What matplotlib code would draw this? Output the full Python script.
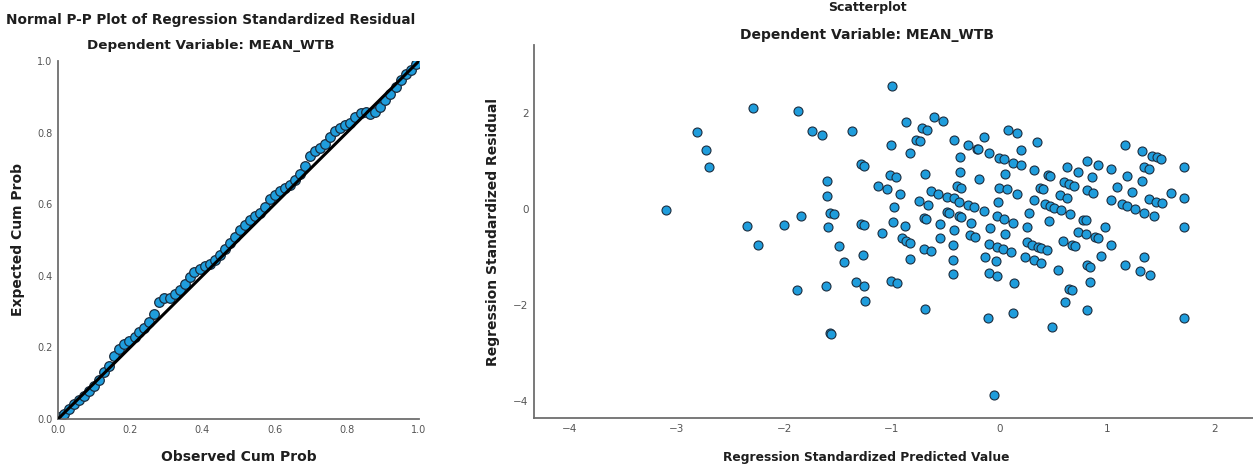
import matplotlib.pyplot as plt

# ---- Normal P-P plot values (read along the band of markers) ----
pp_observed = [0.003, 0.017, 0.031, 0.045, 0.058, 0.072, 0.086, 0.100, 0.114, 0.128,
               0.142, 0.156, 0.170, 0.184, 0.198, 0.212, 0.225, 0.239, 0.253, 0.267,
               0.281, 0.295, 0.309, 0.323, 0.337, 0.351, 0.365, 0.378, 0.392, 0.406,
               0.420, 0.434, 0.448, 0.462, 0.476, 0.490, 0.504, 0.518, 0.532, 0.545,
               0.559, 0.573, 0.587, 0.601, 0.615, 0.629, 0.643, 0.657, 0.671, 0.685,
               0.699, 0.712, 0.726, 0.740, 0.754, 0.768, 0.782, 0.796, 0.810, 0.824,
               0.838, 0.852, 0.865, 0.879, 0.893, 0.907, 0.921, 0.935, 0.949, 0.963,
               0.977, 0.991]
pp_expected = [0.005, 0.014, 0.028, 0.042, 0.053, 0.065, 0.079, 0.093, 0.109, 0.130,
               0.149, 0.177, 0.196, 0.210, 0.219, 0.230, 0.242, 0.254, 0.270, 0.294,
               0.326, 0.338, 0.338, 0.348, 0.361, 0.377, 0.396, 0.410, 0.419, 0.426,
               0.433, 0.445, 0.457, 0.475, 0.492, 0.508, 0.527, 0.543, 0.555, 0.566,
               0.575, 0.592, 0.615, 0.626, 0.637, 0.646, 0.655, 0.668, 0.685, 0.708,
               0.735, 0.748, 0.758, 0.767, 0.788, 0.804, 0.814, 0.820, 0.827, 0.843,
               0.855, 0.857, 0.853, 0.857, 0.871, 0.890, 0.909, 0.927, 0.946, 0.963,
               0.976, 0.991]

# ---- Scatterplot: standardized predicted value vs standardized residual ----
pred = [-2.29, -2.81, -2.73, -2.70, -3.10, -2.35, -2.25,
        -1.00, -1.87, -1.74, -1.65, -1.37, -0.87, -0.61, -0.52, -0.72, -0.67, -0.14,
        -1.01, -0.78, -0.74, -0.83, -0.42, -0.29, -0.21, -0.20, -0.10, 0.00, 0.04, -0.37,
        -1.29, -1.26, -1.60, -1.60, -1.85, -2.00, -1.58, -1.54, -1.59, -1.29, -1.26,
        -1.13, -1.05, -1.02, -0.96, -0.92, -0.69, -0.37, -0.19, -0.39, -0.36, -0.64,
        -0.57, -0.49, -0.42, -0.38, -0.75, -0.66, -0.98, -0.29, -0.24, -0.49, -0.47,
        -0.38, -0.36, -0.14, -0.01, 0.00, -0.02, 0.04, -0.99, -0.88, -0.70, -0.68,
        -0.55, -0.26, -0.09, 0.05, -1.09, -0.91, -0.55, -0.42, -0.27, -0.23,
        -1.49, -1.45, -1.27, -1.88, -1.61, -1.33, -1.26, -1.25, -1.01, -0.95, -1.58,
        -1.57, -0.69, -0.83, -0.70, -0.64, -0.87, -0.83, -0.43, -0.43, -0.43, -0.10,
        -0.02, 0.03, -0.13, -0.03, -0.10, -0.02, -0.11, -0.05,
        0.08, 0.16, 0.35, 0.20, 0.13, 0.20, 0.05, 0.32, 0.45, 0.47, 0.63, 0.73, 0.82,
        0.92, 1.04, 1.17, 1.33, 1.42, 1.47, 1.50, 1.35, 1.39, 1.72, 1.19, 1.33, 0.86,
        1.09, 1.23, 1.60, 1.72, 0.07, 0.16, 0.38, 0.41, 0.60, 0.65, 0.69, 0.56, 0.63,
        0.82, 0.87, 0.32, 0.42, 0.47, 0.51, 0.57, 0.66, 1.04, 1.14, 1.19, 1.26, 1.35,
        1.44, 1.39, 1.46, 1.51, 0.28, 0.13, 0.26, 0.46, 0.78, 0.81, 0.98, 1.72, 0.73,
        0.81, 0.89, 0.92,
        0.26, 0.30, 0.36, 0.39, 0.44, 0.11, 0.24, 0.32, 0.39, 0.59, 0.68, 0.70, 1.04,
        0.95, 0.55, 0.82, 0.84, 0.84, 1.17, 1.35, 1.31, 1.40, 0.14, 0.65, 0.68, 0.61,
        0.13, 0.82, 0.49, 1.72]
resid = [2.11, 1.61, 1.23, 0.88, -0.02, -0.35, -0.75,
         2.56, 2.05, 1.63, 1.55, 1.63, 1.82, 1.92, 1.84, 1.69, 1.65, 1.51,
         1.33, 1.44, 1.42, 1.16, 1.44, 1.33, 1.26, 1.25, 1.16, 1.07, 1.05, 1.08,
         0.94, 0.90, 0.58, 0.27, -0.15, -0.33, -0.07, -0.10, -0.37, -0.31, -0.34,
         0.49, 0.43, 0.71, 0.66, 0.31, 0.74, 0.77, 0.62, 0.48, 0.45, 0.38,
         0.31, 0.26, 0.23, 0.15, 0.17, 0.08, 0.05, 0.08, 0.05, -0.06, -0.07,
         -0.15, -0.17, -0.04, 0.15, 0.44, -0.15, -0.20, -0.26, -0.35, -0.19, -0.21,
         -0.31, -0.28, -0.40, -0.51, -0.49, -0.60, -0.61, -0.44, -0.54, -0.58,
         -0.77, -1.11, -0.96, -1.69, -1.61, -1.52, -1.59, -1.91, -1.49, -1.54, -2.57,
         -2.59, -2.08, -1.03, -0.82, -0.87, -0.67, -0.71, -0.74, -1.05, -1.35, -0.72,
         -0.78, -0.83, -0.99, -1.08, -1.33, -1.40, -2.26, -3.88,
         1.65, 1.58, 1.40, 1.23, 0.97, 0.91, 0.73, 0.81, 0.71, 0.70, 0.87, 0.77, 1.01,
         0.92, 0.83, 1.33, 1.21, 1.11, 1.08, 1.05, 0.88, 0.84, 0.87, 0.69, 0.58, 0.67,
         0.46, 0.35, 0.34, 0.24, 0.41, 0.31, 0.44, 0.43, 0.56, 0.52, 0.49, 0.29, 0.24,
         0.40, 0.34, 0.19, 0.10, 0.06, 0.03, -0.02, -0.10, 0.20, 0.11, 0.07, 0.01, -0.07,
         -0.15, 0.21, 0.15, 0.12, -0.09, -0.28, -0.38, -0.24, -0.22, -0.23, -0.38, -0.38, -0.47,
         -0.52, -0.58, -0.61,
         -0.69, -0.74, -0.78, -0.81, -0.85, -0.89, -1.00, -1.06, -1.12, -0.67, -0.74, -0.77, -0.74,
         -0.98, -1.26, -1.17, -1.20, -1.51, -1.17, -1.00, -1.28, -1.37, -1.53, -1.66, -1.69, -1.93,
         -2.16, -2.11, -2.46, -2.26]

pp_ticks = [0.0, 0.2, 0.4, 0.6, 0.8, 1.0]
sc_xticks = [-4, -3, -2, -1, 0, 1, 2]
sc_yticks = [-4, -2, 0, 2]

W, H = 1253, 468
fill = "#1f9ddc"
edge = "#1b2d3f"
txt = "#1e1e1e"

fig = plt.figure(figsize=(W / 100, H / 100), dpi=100)


def px(x, y):
    return x / W, 1 - y / H


def style(ax, size):
    for s in ["top", "right"]:
        ax.spines[s].set_visible(False)
    for s in ["left", "bottom"]:
        ax.spines[s].set_color("#6e6e6e")
        ax.spines[s].set_linewidth(1.3)
    ax.tick_params(length=0, labelsize=size, colors="#555555", pad=4)


# ---------- left: P-P plot ----------
ax1 = fig.add_axes([58 / W, 1 - 419 / H, 361 / W, 358 / H])
ax1.scatter(pp_observed, pp_expected, s=48, c=fill, edgecolors=edge, linewidths=0.9, zorder=2)
ax1.plot([0, 1], [0, 1], color="black", lw=2.2, zorder=3)
ax1.set_xlim(0, 1)
ax1.set_ylim(0, 1)
ax1.set_xticks(pp_ticks)
ax1.set_yticks(pp_ticks)
ax1.set_xticklabels([f"{t:.1f}" for t in pp_ticks])
ax1.set_yticklabels([f"{t:.1f}" for t in pp_ticks])
style(ax1, 7)

fig.text(*px(211, 20), "Normal P-P Plot of Regression Standardized Residual",
         ha="center", va="center", fontsize=9.8, fontweight="bold", color=txt)
fig.text(*px(211, 45), "Dependent Variable: MEAN_WTB",
         ha="center", va="center", fontsize=9.7, fontweight="bold", color=txt)
fig.text(*px(239, 457), "Observed Cum Prob", ha="center", va="center",
         fontsize=10, fontweight="bold", color=txt)
fig.text(*px(18, 240), "Expected Cum Prob", ha="center", va="center", rotation=90,
         fontsize=10, fontweight="bold", color=txt)

# ---------- right: scatterplot ----------
ax2 = fig.add_axes([534 / W, 1 - 418 / H, 719 / W, 373 / H])
ax2.scatter(pred, resid, s=42, c=fill, edgecolors=edge, linewidths=0.8, zorder=2)
ax2.set_xlim(-4.33, 2.36)
ax2.set_ylim(-4.35, 3.42)
ax2.set_xticks(sc_xticks)
ax2.set_yticks(sc_yticks)
style(ax2, 7.5)

fig.text(*px(867, 8), "Scatterplot", ha="center", va="center",
         fontsize=9, fontweight="bold", color=txt)
fig.text(*px(867, 35), "Dependent Variable: MEAN_WTB", ha="center", va="center",
         fontsize=10, fontweight="bold", color=txt)
fig.text(*px(866, 457), "Regression Standardized Predicted Value", ha="center", va="center",
         fontsize=8.8, fontweight="bold", color=txt)
fig.text(*px(493, 232), "Regression Standardized Residual", ha="center", va="center",
         rotation=90, fontsize=10, fontweight="bold", color=txt)

fig.savefig("out.png", dpi=100)
